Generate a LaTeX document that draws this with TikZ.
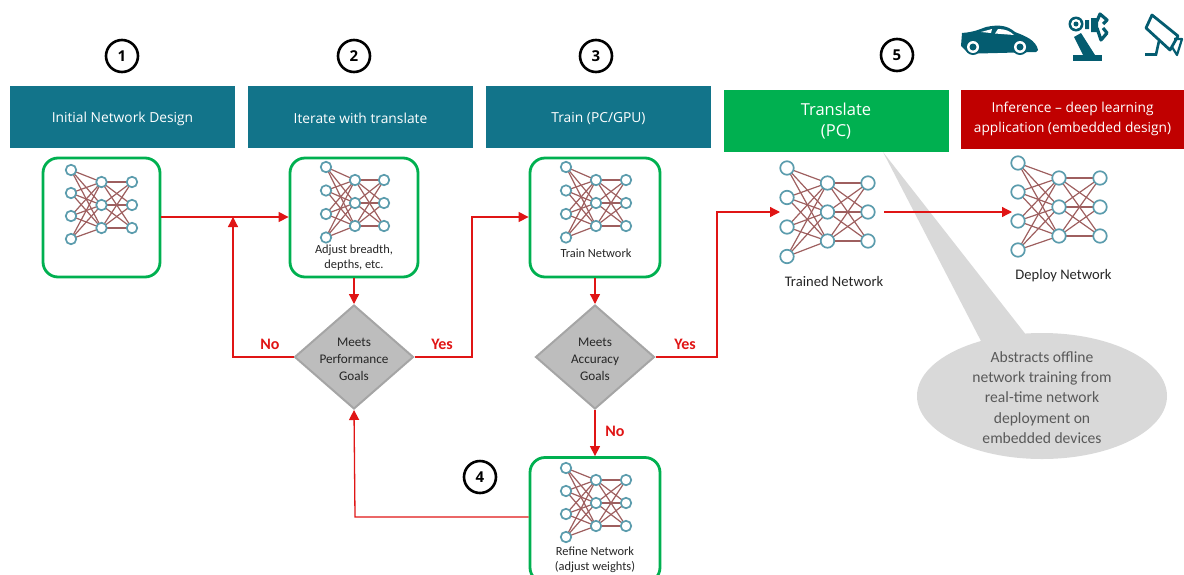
\documentclass[tikz,border=0pt]{standalone}
\usepackage{fontspec}
\setmainfont{Open Sans}
\newfontfamily\crl{Carlito}
\usetikzlibrary{arrows.meta,shapes.geometric,calc}
\definecolor{teal1}{HTML}{12748A}
\definecolor{gbox}{HTML}{00B050}
\definecolor{redh}{HTML}{C00000}
\definecolor{wire}{HTML}{9E5F5F}
\definecolor{ring}{HTML}{5B9CAD}
\definecolor{iconc}{HTML}{045C70}
\definecolor{flow}{HTML}{E01515}
\definecolor{callgrey}{HTML}{D9D9D9}
\definecolor{diag}{HTML}{BDBDBD}
\definecolor{diagline}{HTML}{A5A5A5}
\tikzset{
  header/.style={minimum width=225pt,minimum height=62pt,inner sep=0pt},
  htext/.style={align=center,text=white,inner sep=0pt,font=\fontsize{13.8}{17}\selectfont},
  gbutton/.style={draw=gbox,line width=2.8pt,rounded corners=15pt,fill=white,inner sep=0pt},
  decision/.style={diamond,aspect=1.15,draw=diagline,line width=2pt,fill=diag,inner sep=0pt,minimum width=119pt,minimum height=104pt},
  dtext/.style={align=center,inner sep=0pt,text=black!85,font=\crl\fontsize{13.2}{17}\selectfont},
  num/.style={circle,draw=black,line width=2.6pt,fill=white,minimum size=32pt,inner sep=0pt,font=\bfseries\fontsize{15}{15}\selectfont},
  flowline/.style={draw=flow,line width=1.3pt,-{Triangle[length=10pt,width=10pt]}},
  yn/.style={text=flow,font=\crl\bfseries\fontsize{16}{16}\selectfont,inner sep=0pt},
  lbl/.style={align=center,inner sep=0pt,text=black!85,font=\crl\fontsize{12.4}{15}\selectfont},
  lblbig/.style={lbl,font=\crl\fontsize{14.6}{17}\selectfont},
  neuron/.style={circle,draw=ring,line width=1.7pt,fill=white,inner sep=0pt,minimum size=#1},
}
% \netw{prefix}{x1}{y1}{dx}{dy1}{off}{dy2}{d}
\newcommand{\netw}[8]{%
  \begin{scope}
  \foreach \i in {0,1,2,3} \path ({#2},{#3+\i*#5}) coordinate (#1a\i);
  \foreach \i in {0,1,2} {\path ({#2+#4},{#3+#6+\i*#7}) coordinate (#1b\i);
    \path ({#2+2*#4},{#3+#6+\i*#7}) coordinate (#1c\i);}
  \foreach \i in {0,1,2,3} \foreach \j in {0,1,2} \draw[wire,line width=1.2pt] (#1a\i)--(#1b\j);
  \foreach \i in {0,1,2} \foreach \j in {0,1,2} \draw[wire,line width=1.2pt] (#1b\i)--(#1c\j);
  \foreach \i in {0,1,2,3} \node[neuron=#8] at (#1a\i) {};
  \foreach \i in {0,1,2} {\node[neuron=#8] at (#1b\i) {}; \node[neuron=#8] at (#1c\i) {};}
  \end{scope}}
\begin{document}
\begin{tikzpicture}[x=1pt,y=-1pt]
\useasboundingbox (0,0) rectangle (1184,574);
% headers
\node[header,fill=teal1,label={[htext,yshift=-1.5pt]center:Initial Network Design}] (h1) at (122.5,117) {};
\node[header,fill=teal1,label={[htext,yshift=-1.5pt]center:Iterate with translate}] (h2) at (360.5,117) {};
\node[header,fill=teal1,label={[htext,yshift=-1.5pt]center:Train (PC/GPU)}] (h3) at (598.5,117) {};
\node[header,fill=gbox,label={[htext,font=\fontsize{16.5}{21}\selectfont,yshift=-1pt]center:{Translate\\(PC)}}] (h5) at (836,120.5) {};
\node[header,fill=redh,minimum width=223pt,minimum height=59pt,label={[htext,font=\fontsize{13.7}{20}\selectfont]center:{Inference – deep learning\\application (embedded design)}}] (h6) at (1072.5,119) {};
% numbers
\node[num] (n1) at (122,56) {1};
\node[num] (n2) at (354,56) {2};
\node[num] (n3) at (596,56) {3};
\node[num] (n4) at (480,477) {4};
\node[num] (n5) at (897,55) {5};
% callout
\fill[callgrey] (883,152) -- (982,343) -- (1027,336) -- cycle;
\node[ellipse,fill=callgrey,minimum width=250pt,minimum height=126pt,inner sep=0pt] (call) at (1042,396) {};
\node[align=center,inner sep=0pt,text=black!65,font=\crl\fontsize{15.6}{20.2}\selectfont] (calltext) at (1042,397.5) {Abstracts offline\\network training from\\real-time network\\deployment on\\embedded devices};
% boxes
\node[gbutton,minimum width=117pt,minimum height=119pt] (b1) at (101.5,217.5) {};
\node[gbutton,minimum width=128pt,minimum height=119pt] (b2) at (354,217.5) {};
\node[gbutton,minimum width=130pt,minimum height=119pt] (b3) at (595,217.5) {};
\begin{scope}
\clip (500,440) rectangle (700,574);
\node[gbutton,minimum width=130pt,minimum height=125pt] (b4) at (595,520) {};
\end{scope}
% networks
\netw{p}{71}{170}{30.5}{23}{12}{23}{10.5pt}
\netw{q}{326}{167}{29}{23.5}{13}{23}{10.5pt}
\netw{r}{566}{167}{30}{23.5}{13}{23}{10.5pt}
\netw{s}{566}{468}{30}{23}{12}{23}{10.5pt}
\netw{t}{787}{168}{40.5}{29.5}{15}{29}{13.5pt}
\netw{u}{1018}{163}{41}{29}{15}{29}{13.5pt}
% labels
\node[lbl] (l2) at (354,258) {Adjust breadth,\\depths, etc.};
\node[lbl] (l3) at (596,253) {Train Network};
\node[lbl] (l4) at (595,560) {Refine Network\\(adjust weights)};
\node[lblbig] (l5) at (834,281) {Trained Network};
\node[lblbig] (l6) at (1063.5,276) {Deploy Network};
% diamonds
\node[decision,label={[dtext,yshift=-2pt]center:{Meets\\Performance\\Goals}}] (d2) at (354,357) {};
\node[decision,label={[dtext,yshift=-2pt]center:{Meets\\Accuracy\\Goals}}] (d3) at (595,357) {};
% anchors
\coordinate (j1) at (233,217);
\coordinate (j2) at (472,217);
\coordinate (j3) at (717,212);
\coordinate (j4) at (355,517);
\coordinate (tin) at (780,212);
\coordinate (tout) at (884,212);
\coordinate (uin) at (1012,212);
% connectors
\draw[flowline] (b1.east|-j1) -- (b2.west|-j1);
\draw[flowline] (d2.west) -- (j1|-d2.west) -- (j1);
\draw[flowline] (b2.south) -- (d2.north);
\draw[flowline] (d2.east) -- (j2|-d2.east) -- (j2) -- (b3.west|-j2);
\draw[flowline] (b3.south) -- (d3.north);
\draw[flowline] (d3.east) -- (j3|-d3.east) -- (j3) -- (tin);
\draw[flowline] (d3.south) -- (b4.north);
\draw[flowline] (b4.west|-j4) -- (j4) -- (d2.south);
\draw[flowline] (tout) -- (uin);
\node[yn] (y1) at (270,344) {No};
\node[yn] (y2) at (442,344) {Yes};
\node[yn] (y3) at (685,344) {Yes};
\node[yn] (y4) at (615,431) {No};
% car
\fill[iconc] (962,33) .. controls (975,32) and (980,29) .. (986,27) .. controls (1000,24) and (1008,26) .. (1015,32) .. controls (1025,36) and (1036,40) .. (1038,50) -- (1036,52) -- (978,53.5) -- (967,52) -- (961,46) -- cycle;
\fill[white] (981,32) -- (992,29) -- (991,33) -- cycle (995,33.5) -- (998,29) .. controls (1005,29) and (1010,31) .. (1014,35) -- cycle;
\foreach \c in {973,1020}{\fill[iconc] (\c,47) circle (8pt); \fill[white] (\c,47) circle (6pt); \fill[iconc] (\c,47) circle (3.5pt);}
% robot
\fill[iconc] (1072.5,55) rectangle (1102,61);
\fill[iconc] (1074,37) -- (1081,33) -- (1095,55) -- (1083,55) -- cycle;
\fill[iconc] (1076,24) circle (7.5pt); \fill[white] (1076,24) circle (5pt); \fill[iconc] (1076,24) circle (2.5pt);
\fill[iconc] (1085,20) rectangle (1089,29) (1091,18) rectangle (1098,32);
\draw[iconc,line width=3.2pt,line join=round] (1097,21) -- (1100,14) -- (1107,20) -- (1103,24) (1097,28) -- (1101,40) -- (1107,33) -- (1103,28);
% camera
\draw[iconc,line width=2.8pt,line join=round] (1152,15) -- (1146,28) -- (1170,50) -- (1178,36) -- cycle;
\draw[iconc,line width=2.2pt,line join=round] (1174,39) -- (1182,39) -- (1177,55) -- (1172,47);
\draw[iconc,line width=2.6pt] (1145,54.5) -- (1156,54.5) -- (1159,41);
\end{tikzpicture}
\end{document}
